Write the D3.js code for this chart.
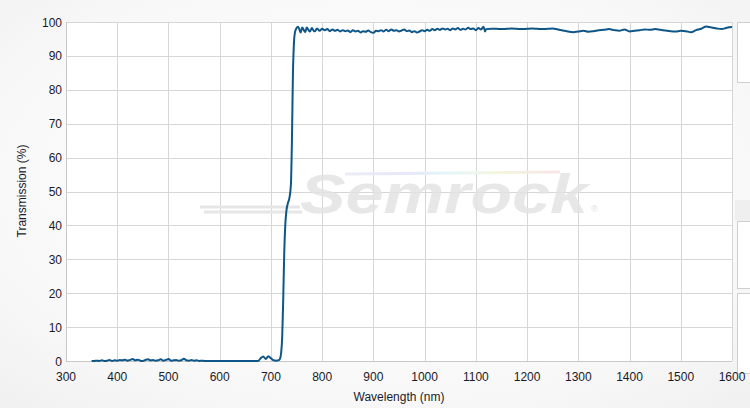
<!DOCTYPE html>
<html><head><meta charset="utf-8">
<script src="https://cdn.jsdelivr.net/npm/d3@7"></script>
<style>html,body{margin:0;padding:0;background:#fff;}svg{display:block;font-family:Arial,"Liberation Sans",sans-serif;}</style>
</head><body>
<svg id="c" width="750" height="408"></svg>
<script>
const xTicks = [300,400,500,600,700,800,900,1000,1100,1200,1300,1400,1500,1600];
const yTicks = [0,10,20,30,40,50,60,70,80,90,100];
const wavelength = [
350,355,360,365,370,375,380,385,390,395,400,405,410,415,420,425,430,435,440,445,450,455,460,465,470,475,480,485,490,495,500,505,510,515,520,525,530,535,540,545,550,555,560,565,570,600,650,675,680,685,690,695,700,705,710,715,718,720,722,724,726,728,730,733,736,739,741,743,745,747,750,753,756,758,761,765,767,770,774,776,780,784,786,790,795,800,805,810,815,820,825,830,835,840,845,850,855,860,865,870,875,880,885,890,895,900,905,910,915,920,925,930,935,940,945,950,955,960,965,970,975,980,985,990,995,1000,1005,1010,1015,1020,1025,1030,1035,1040,1045,1050,1055,1060,1065,1070,1075,1080,1085,1090,1095,1100,1105,1110,1115,1118,1120,1130,1140,1150,1160,1170,1180,1190,1200,1210,1220,1230,1240,1250,1260,1270,1280,1290,1300,1310,1320,1330,1340,1350,1360,1370,1380,1390,1400,1410,1420,1430,1440,1450,1460,1470,1480,1490,1500,1510,1520,1530,1540,1550,1555,1560,1570,1580,1590,1600];
const transmission = [
0,0,0.1,0,0.2,0,0.1,0.3,0,0.2,0.1,0.3,0.2,0.4,0.1,0.3,0.6,0.2,0.4,0.1,0,0.3,0.5,0.2,0.3,0.1,0.2,0.5,0.1,0.3,0.6,0.1,0.2,0.3,0.1,0.2,0.7,0.2,0.1,0.3,0.1,0.2,0,0.1,0,0,0,0,0.8,1.3,0.6,1.4,0.8,0.2,0.1,0.2,0.8,2.5,7,18,32,40,44,46.5,48,52,65,85,94,97,98.2,98.6,97.6,96.9,98.4,97.4,97.0,98.4,97.5,97.2,98.2,97.3,97.3,98.1,97.4,98.0,97.6,97.9,97.3,97.8,97.4,97.7,97.2,97.6,97.3,97.5,97.0,97.6,97.2,97.4,96.9,97.3,97.1,97.5,97.0,96.8,97.4,97.3,97.6,97.2,97.7,97.3,97.8,97.4,97.6,97.2,97.5,97.8,97.3,97.5,97.0,97.3,96.9,97.2,97.6,97.3,97.7,97.4,97.9,97.6,98.0,97.7,98.1,97.8,98.0,97.6,98.1,97.8,98.2,97.7,98.0,97.8,98.3,97.9,98.1,97.6,98.2,97.8,98.6,97.2,97.9,98.0,98.0,97.9,98.0,98.1,98.0,97.9,98.0,98.1,98.0,97.9,98.0,98.1,97.8,97.5,97.2,97.0,97.2,97.4,97.1,97.3,97.6,97.7,97.9,97.6,97.4,97.8,97.2,97.4,97.6,97.8,97.7,97.9,97.7,97.5,97.3,97.2,97.4,97.3,97.0,97.6,98.0,98.7,98.5,98.4,98.1,97.9,98.3,98.5];

const svg = d3.select("#c");
const W = 750, H = 408;
const defs = svg.append("defs");
const rg = defs.append("radialGradient").attr("id","bg").attr("cx","50%").attr("cy","45%").attr("r","75%");
rg.append("stop").attr("offset","0%").attr("stop-color","#ffffff");
rg.append("stop").attr("offset","70%").attr("stop-color","#f8f8f8");
rg.append("stop").attr("offset","100%").attr("stop-color","#f0f0f0");
const lg = defs.append("linearGradient").attr("id","rainbow").attr("x1","0").attr("x2","1");
[["0%","#ececf6"],["30%","#e6e8fa"],["50%","#e4f6f8"],["70%","#f4f6de"],["100%","#f8e6e6"]].forEach(s=>lg.append("stop").attr("offset",s[0]).attr("stop-color",s[1]));

svg.append("rect").attr("width",W).attr("height",H).attr("fill","url(#bg)");

const m = {l:66, r:732, t:22, b:361};
const x = d3.scaleLinear().domain([300,1600]).range([m.l, m.r]);
const y = d3.scaleLinear().domain([0,100]).range([m.b, m.t]);

// side panels (cut-off)
svg.append("rect").attr("x",735).attr("y",200).attr("width",15).attr("height",21).attr("fill","#efefef");
[[22.5,60],[221.5,67],[293.5,80]].forEach(p=>{
  svg.append("rect").attr("x",737.5).attr("y",p[0]).attr("width",20).attr("height",p[1]).attr("fill","#fff").attr("stroke","#cfcfcf");
});

svg.append("rect").attr("x",m.l).attr("y",m.t).attr("width",m.r-m.l).attr("height",m.b-m.t).attr("fill","#fff");

// grid
svg.append("g").selectAll("line").data(xTicks).join("line")
  .attr("x1",d=>Math.round(x(d))+0.5).attr("x2",d=>Math.round(x(d))+0.5)
  .attr("y1",m.t).attr("y2",m.b).attr("stroke","#d6d6d6");
svg.append("g").selectAll("line").data(yTicks).join("line")
  .attr("y1",d=>Math.round(y(d))+0.5).attr("y2",d=>Math.round(y(d))+0.5)
  .attr("x1",m.l).attr("x2",m.r).attr("stroke","#d6d6d6");

// watermark
const wm = svg.append("g");
[[200,300,207],[204,302,212]].forEach(l=>wm.append("line").attr("x1",l[0]).attr("x2",l[1]).attr("y1",l[2]).attr("y2",l[2]).attr("stroke","#e6e6e6").attr("stroke-width",3));
wm.append("path").attr("d","M345,174 L560,172").attr("stroke","url(#rainbow)").attr("stroke-width",3).attr("fill","none");
wm.append("text").attr("x",300).attr("y",213).attr("font-size",56).attr("font-style","italic").attr("font-weight","bold")
  .attr("font-family","Arial,'Liberation Sans',sans-serif").attr("fill","#e3e3e3").attr("fill-opacity",0.85)
  .attr("textLength",288).attr("lengthAdjust","spacingAndGlyphs").text("Semrock");
wm.append("text").attr("x",591).attr("y",212).attr("font-size",9).attr("fill","#e0e0e0").text("®");

// axis lines
svg.append("line").attr("x1",m.l+0.5).attr("x2",m.l+0.5).attr("y1",m.t).attr("y2",m.b).attr("stroke","#c8c8c8");
svg.append("line").attr("x1",m.l).attr("x2",m.r).attr("y1",m.b+0.5).attr("y2",m.b+0.5).attr("stroke","#c8c8c8");

// data line
const pts = wavelength.map((w,i)=>[w, transmission[i]]);
svg.append("path").datum(pts).attr("fill","none").attr("stroke","#0f5688").attr("stroke-width",2).attr("stroke-linejoin","round")
  .attr("d", d3.line().x(d=>x(d[0])).y(d=>y(d[1])).curve(d3.curveMonotoneX));

// tick labels
svg.append("g").selectAll("text").data(xTicks).join("text")
  .attr("x",d=>x(d)).attr("y",381).attr("text-anchor","middle").attr("font-size",12).attr("fill","#1a1a2a").text(d=>d);
svg.append("g").selectAll("text").data(yTicks).join("text")
  .attr("x",62).attr("y",d=>y(d)+4.5).attr("text-anchor","end").attr("font-size",12).attr("fill","#1a1a2a").text(d=>d);

// axis titles
svg.append("text").attr("x",399).attr("y",401).attr("text-anchor","middle").attr("font-size",12).attr("fill","#1a1a2a").text("Wavelength (nm)");
svg.append("text").attr("transform","translate(26,191) rotate(-90)").attr("text-anchor","middle").attr("font-size",12).attr("fill","#1a1a2a").text("Transmission (%)");
</script>
</body></html>
